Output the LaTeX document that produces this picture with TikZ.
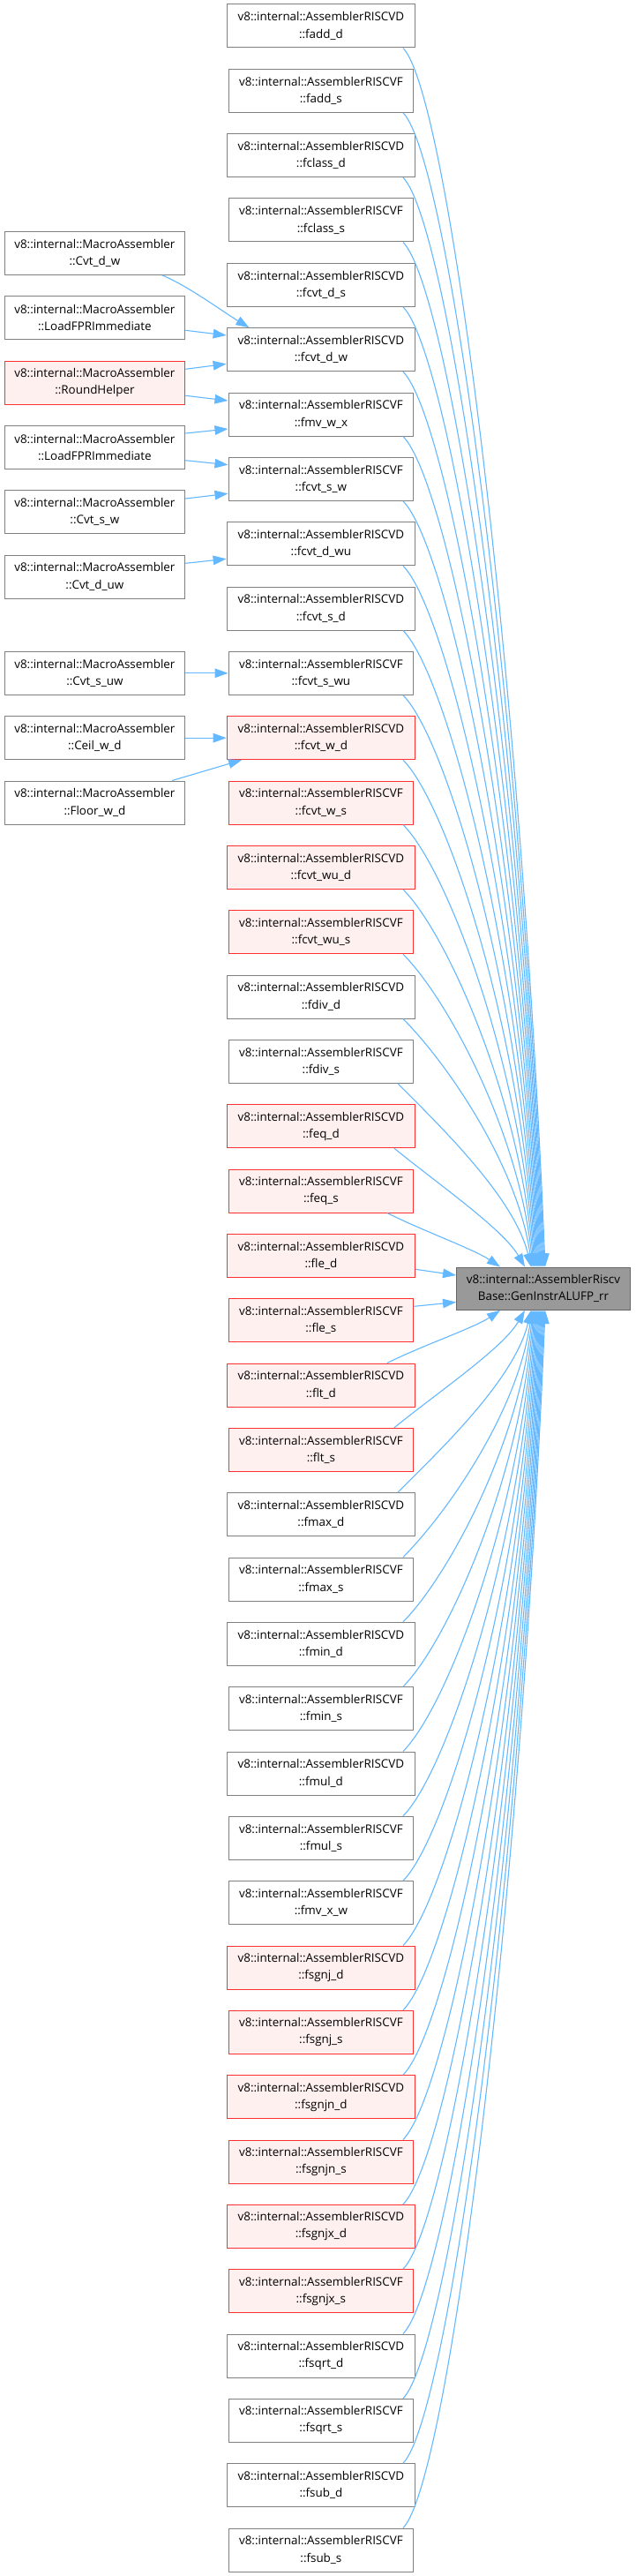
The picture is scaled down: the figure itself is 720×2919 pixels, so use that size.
\documentclass[tikz,border=0pt]{standalone}
\usepackage{fontspec}
\setmainfont{Open Sans}
\usetikzlibrary{arrows.meta,calc}
\definecolor{edgeblue}{HTML}{63B8FF}
\definecolor{nodeborder}{HTML}{808080}
\definecolor{redfill}{HTML}{FFF0F0}
\definecolor{redborder}{HTML}{FF3030}
\definecolor{rootfill}{HTML}{999999}
\definecolor{rootborder}{HTML}{666666}
\begin{document}
\begin{tikzpicture}[x=1pt,y=-1pt,
  box/.style={draw=nodeborder, fill=white, line width=1pt, align=center, inner sep=0pt,
    minimum height=49pt, font=\fontsize{13.4}{19.3}\selectfont},
  boxD/.style={box, minimum width=213.5pt},
  boxF/.style={box, minimum width=209.8pt},
  boxL/.style={box, minimum width=204.8pt},
  redbox/.style={draw=redborder, fill=redfill},
  rootbox/.style={box, draw=rootborder, fill=rootfill, minimum width=197pt, minimum height=48.3pt},
  edge/.style={draw=edgeblue, line width=1.1pt, -{Triangle[length=15pt,width=10.5pt]}}
]
\useasboundingbox (0,0) rectangle (720,2919);
\fill[white] (0,0) rectangle (720,2919);

% middle column
\node[boxD] (m0) at (363.9,29.5) {v8::internal::AssemblerRISCVD\\::fadd\_d};
\node[boxF] (m1) at (363.9,102.8) {v8::internal::AssemblerRISCVF\\::fadd\_s};
\node[boxD] (m2) at (363.9,176.2) {v8::internal::AssemblerRISCVD\\::fclass\_d};
\node[boxF] (m3) at (363.9,249.5) {v8::internal::AssemblerRISCVF\\::fclass\_s};
\node[boxD] (m4) at (363.9,322.8) {v8::internal::AssemblerRISCVD\\::fcvt\_d\_s};
\node[boxD] (m5) at (363.9,396.2) {v8::internal::AssemblerRISCVD\\::fcvt\_d\_w};
\node[boxF] (m6) at (363.9,469.5) {v8::internal::AssemblerRISCVF\\::fmv\_w\_x};
\node[boxF] (m7) at (363.9,542.8) {v8::internal::AssemblerRISCVF\\::fcvt\_s\_w};
\node[boxD] (m8) at (363.9,616.2) {v8::internal::AssemblerRISCVD\\::fcvt\_d\_wu};
\node[boxD] (m9) at (363.9,689.5) {v8::internal::AssemblerRISCVD\\::fcvt\_s\_d};
\node[boxF] (m10) at (363.9,762.8) {v8::internal::AssemblerRISCVF\\::fcvt\_s\_wu};
\node[boxD,redbox] (m11) at (363.9,836.2) {v8::internal::AssemblerRISCVD\\::fcvt\_w\_d};
\node[boxF,redbox] (m12) at (363.9,909.5) {v8::internal::AssemblerRISCVF\\::fcvt\_w\_s};
\node[boxD,redbox] (m13) at (363.9,982.8) {v8::internal::AssemblerRISCVD\\::fcvt\_wu\_d};
\node[boxF,redbox] (m14) at (363.9,1056.2) {v8::internal::AssemblerRISCVF\\::fcvt\_wu\_s};
\node[boxD] (m15) at (363.9,1129.5) {v8::internal::AssemblerRISCVD\\::fdiv\_d};
\node[boxF] (m16) at (363.9,1202.8) {v8::internal::AssemblerRISCVF\\::fdiv\_s};
\node[boxD,redbox] (m17) at (363.9,1276.2) {v8::internal::AssemblerRISCVD\\::feq\_d};
\node[boxF,redbox] (m18) at (363.9,1349.5) {v8::internal::AssemblerRISCVF\\::feq\_s};
\node[boxD,redbox] (m19) at (363.9,1422.8) {v8::internal::AssemblerRISCVD\\::fle\_d};
\node[boxF,redbox] (m20) at (363.9,1496.2) {v8::internal::AssemblerRISCVF\\::fle\_s};
\node[boxD,redbox] (m21) at (363.9,1569.5) {v8::internal::AssemblerRISCVD\\::flt\_d};
\node[boxF,redbox] (m22) at (363.9,1642.8) {v8::internal::AssemblerRISCVF\\::flt\_s};
\node[boxD] (m23) at (363.9,1716.2) {v8::internal::AssemblerRISCVD\\::fmax\_d};
\node[boxF] (m24) at (363.9,1789.5) {v8::internal::AssemblerRISCVF\\::fmax\_s};
\node[boxD] (m25) at (363.9,1862.8) {v8::internal::AssemblerRISCVD\\::fmin\_d};
\node[boxF] (m26) at (363.9,1936.2) {v8::internal::AssemblerRISCVF\\::fmin\_s};
\node[boxD] (m27) at (363.9,2009.5) {v8::internal::AssemblerRISCVD\\::fmul\_d};
\node[boxF] (m28) at (363.9,2082.8) {v8::internal::AssemblerRISCVF\\::fmul\_s};
\node[boxF] (m29) at (363.9,2156.2) {v8::internal::AssemblerRISCVF\\::fmv\_x\_w};
\node[boxD,redbox] (m30) at (363.9,2229.5) {v8::internal::AssemblerRISCVD\\::fsgnj\_d};
\node[boxF,redbox] (m31) at (363.9,2302.8) {v8::internal::AssemblerRISCVF\\::fsgnj\_s};
\node[boxD,redbox] (m32) at (363.9,2376.2) {v8::internal::AssemblerRISCVD\\::fsgnjn\_d};
\node[boxF,redbox] (m33) at (363.9,2449.5) {v8::internal::AssemblerRISCVF\\::fsgnjn\_s};
\node[boxD,redbox] (m34) at (363.9,2522.8) {v8::internal::AssemblerRISCVD\\::fsgnjx\_d};
\node[boxF,redbox] (m35) at (363.9,2596.2) {v8::internal::AssemblerRISCVF\\::fsgnjx\_s};
\node[boxD] (m36) at (363.9,2669.5) {v8::internal::AssemblerRISCVD\\::fsqrt\_d};
\node[boxF] (m37) at (363.9,2742.8) {v8::internal::AssemblerRISCVF\\::fsqrt\_s};
\node[boxD] (m38) at (363.9,2816.2) {v8::internal::AssemblerRISCVD\\::fsub\_d};
\node[boxF] (m39) at (363.9,2889.5) {v8::internal::AssemblerRISCVF\\::fsub\_s};

% left column
\node[boxL] (L1) at (107.4,286.8) {v8::internal::MacroAssembler\\::Cvt\_d\_w};
\node[boxL] (L2) at (107.4,360.2) {v8::internal::MacroAssembler\\::LoadFPRImmediate};
\node[boxL,redbox] (L3) at (107.4,433.5) {v8::internal::MacroAssembler\\::RoundHelper};
\node[boxL] (L4) at (107.4,506.8) {v8::internal::MacroAssembler\\::LoadFPRImmediate};
\node[boxL] (L5) at (107.4,580.2) {v8::internal::MacroAssembler\\::Cvt\_s\_w};
\node[boxL] (L6) at (107.4,653.5) {v8::internal::MacroAssembler\\::Cvt\_d\_uw};
\node[boxL] (L7) at (107.4,762.8) {v8::internal::MacroAssembler\\::Cvt\_s\_uw};
\node[boxL] (L8) at (107.4,836.2) {v8::internal::MacroAssembler\\::Ceil\_w\_d};
\node[boxL] (L9) at (107.4,909.5) {v8::internal::MacroAssembler\\::Floor\_w\_d};

% root
\node[rootbox] (r) at (616,1460.2) {v8::internal::AssemblerRiscv\\Base::GenInstrALUFP\_rr};

% left edges
\draw[edge] ($(L1.south)+(76.3,0)$) .. controls +(31.3,13.3) and +(-32.4,-19.7) .. ($(m5.north)+(-81.5,0)$);
\draw[edge] ($(L2.east)+(0,14.1)$) -- ($(m5.west)+(0,-16.2)$);
\draw[edge] ($(L3.east)+(0,-15.2)$) -- ($(m5.west)+(0,16.1)$);
\draw[edge] ($(L3.east)+(0,14.8)$) -- ($(m6.west)+(0,-15.5)$);
\draw[edge] ($(L4.east)+(0,-15.8)$) -- ($(m6.west)+(0,16.5)$);
\draw[edge] ($(L4.east)+(0,14.9)$) -- ($(m7.west)+(0,-16.1)$);
\draw[edge] ($(L5.east)+(0,-15.2)$) -- ($(m7.west)+(0,16.5)$);
\draw[edge] ($(L6.east)+(0,-15.2)$) -- ($(m8.west)+(0,17.1)$);
\draw[edge] (L7.east) -- (m10.west);
\draw[edge] (L8.east) -- (m11.west);
\draw[edge] ($(L9.north)+(87.7,0)$) -- ($(m11.south)+(-89.8,0)$);

% middle to root: nodes above
\foreach \i in {0,...,18}{
  \pgfmathsetmacro{\D}{1382-73.333*\i}
  \pgfmathsetmacro{\sx}{\i<16 ? 93 : (\i==16 ? 87 : (\i==17 ? 83 : 75))}
  \pgfmathsetmacro{\tx}{\i<17 ? 2-\i : (\i==17 ? -21 : -49)}
  \pgfmathsetmacro{\ax}{\i==18 ? 40 : 50}
  \pgfmathsetmacro{\ay}{\i==18 ? 20 : min(50,0.3*\D)}
  \pgfmathsetmacro{\cx}{\i==18 ? 30 : 0.02*\D+3000/\D}
  \pgfmathsetmacro{\cy}{\i==18 ? 20 : 0.55*\D*(\D/(\D+100))}
  \draw[edge] ($(m\i.south)+(\sx,0)$) .. controls +(\ax,\ay) and +(-\cx,-\cy) .. ($(r.north)+(\tx,0)$);
}
% fle_d, fle_s
\draw[edge] ($(m19.east)+(0,15.5)$) -- ($(r.west)+(0,-15.2)$);
\draw[edge] ($(m20.east)+(0,-15.9)$) -- ($(r.west)+(0,15.3)$);
% nodes below
\foreach \i in {21,...,39}{
  \pgfmathtruncatemacro{\j}{39-\i}
  \pgfmathsetmacro{\D}{1382-73.333*\j}
  \pgfmathsetmacro{\sx}{\j<16 ? 93 : (\j==16 ? 87 : (\j==17 ? 83 : 75))}
  \pgfmathsetmacro{\tx}{\j<17 ? 2-\j : (\j==17 ? -21 : -49)}
  \pgfmathsetmacro{\ax}{\j==18 ? 40 : 50}
  \pgfmathsetmacro{\ay}{\j==18 ? 20 : min(50,0.3*\D)}
  \pgfmathsetmacro{\cx}{\j==18 ? 30 : 0.02*\D+3000/\D}
  \pgfmathsetmacro{\cy}{\j==18 ? 20 : 0.55*\D*(\D/(\D+100))}
  \draw[edge] ($(m\i.north)+(\sx,0)$) .. controls +(\ax,-\ay) and +(-\cx,\cy) .. ($(r.south)+(\tx,0)$);
}
\end{tikzpicture}
\end{document}
